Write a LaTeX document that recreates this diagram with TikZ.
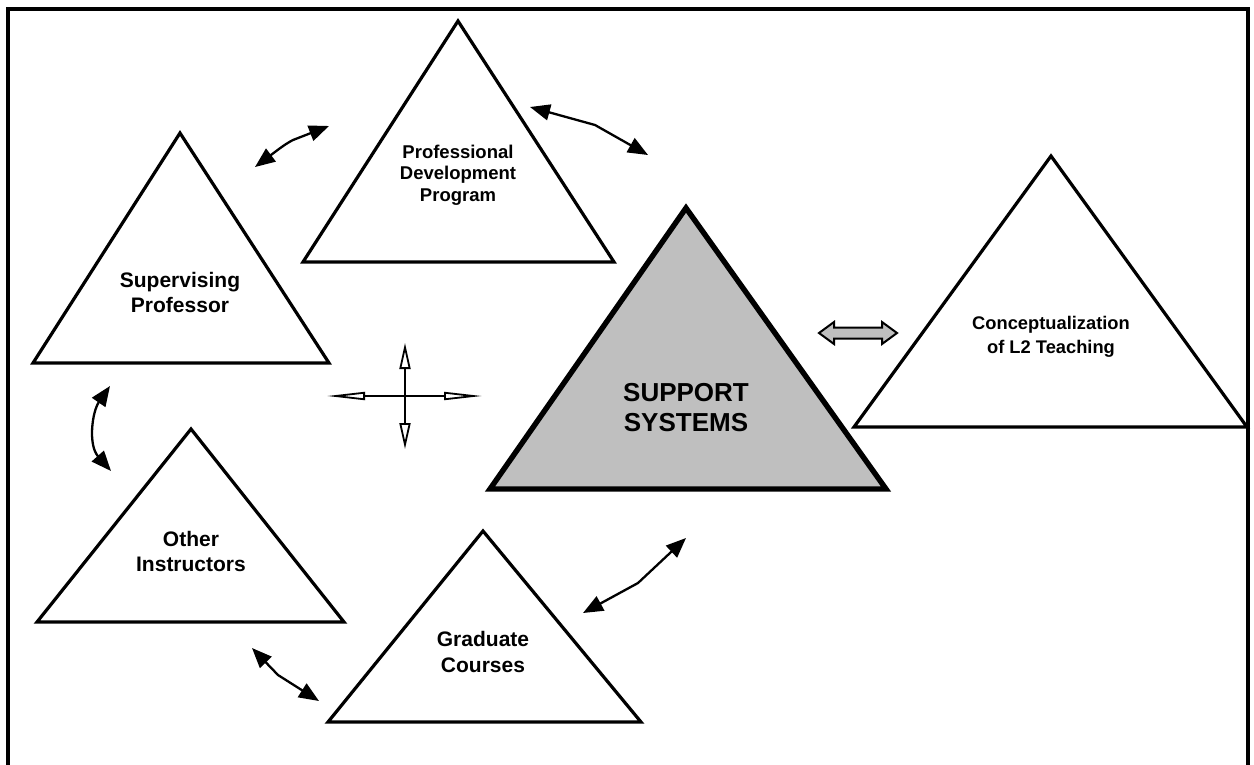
\documentclass[tikz,border=0pt]{standalone}
\usepackage{fontspec}
\setmainfont{Liberation Sans}
\usetikzlibrary{arrows.meta}
\begin{document}
\begin{tikzpicture}[x=1pt,y=-1pt,
  tri/.style={draw=black,line width=3.2pt,line join=miter,fill=white},
  maintri/.style={draw=black,line width=5.4pt,line join=miter,fill=black!25},
  label/.style={align=center,inner sep=0pt},
  link/.style={line width=2.3pt,{Triangle[length=20pt,width=16pt]}-{Triangle[length=20pt,width=16pt]}},
  hopen/.style={line width=1.8pt,{Triangle[open,length=38pt,width=8pt,fill=white]}-{Triangle[open,length=38pt,width=8pt,fill=white]}},
  vopen/.style={line width=1.8pt,{Triangle[open,length=26pt,width=11pt,fill=white]}-{Triangle[open,length=26pt,width=11pt,fill=white]}},
]
\useasboundingbox (0,0) rectangle (1254,764);
\clip (0,0) rectangle (1254,764);
% outer frame
\draw[line width=3.2pt] (8,9) rectangle (1248,820);

% triangles
\draw[tri] (180,133) -- (329,363) -- (33,363) -- cycle;
\draw[tri] (458,21) -- (614,262) -- (303,262) -- cycle;
\draw[maintri] (686,208) -- (886,489) -- (490,489) -- cycle;
\draw[tri] (1051,156) -- (1247,427) -- (854,427) -- cycle;
\draw[tri] (191,429) -- (344,622) -- (37,622) -- cycle;
\draw[tri] (483,531) -- (641,722) -- (328,722) -- cycle;

% labels
\node[label,font=\fontsize{21}{25}\selectfont\bfseries] (sup) at (180,292) {Supervising\\Professor};
\node[label,font=\fontsize{18.5}{21.7}\selectfont\bfseries] (pdp) at (458,175) {Professional\\Development\\Program};
\node[label,font=\fontsize{26}{30}\selectfont\bfseries] (ss) at (686,408) {SUPPORT\\SYSTEMS};
\node[label,font=\fontsize{18.3}{24}\selectfont\bfseries] (con) at (1051,337) {Conceptualization\\of L2 Teaching};
\node[label,font=\fontsize{21}{25}\selectfont\bfseries] (oth) at (191,551) {Other\\Instructors};
\node[label,font=\fontsize{21}{26}\selectfont\bfseries] (gc) at (483,652) {Graduate\\Courses};

% connector end points
\coordinate (a1) at (255,167); \coordinate (a2) at (329,126);
\coordinate (b1) at (530,107); \coordinate (b2) at (648,155);
\coordinate (c1) at (110,386); \coordinate (c2) at (111,471);
\coordinate (d1) at (252,648); \coordinate (d2) at (319,701);
\coordinate (e1) at (583,613); \coordinate (e2) at (686,538);

\draw[link] (a1) .. controls (275,152) and (285,144) .. (293,140) -- (a2);
\draw[link] (b1) -- (595,125) -- (b2);
\draw[link] (c1) .. controls (92,412) and (88,445) .. (c2);
\draw[link] (d1) -- (278,675) -- (d2);
\draw[link] (e1) -- (638,583) -- (e2);

% four-way arrow
\coordinate (xl) at (327,396); \coordinate (xr) at (482,396);
\coordinate (xt) at (405,343); \coordinate (xb) at (405,449);
\draw[hopen] (xl) -- (xr);
\draw[vopen] (xt) -- (xb);

% gray double block arrow
\draw[line width=2pt,fill=black!25,line join=miter]
  (819,333) -- (834,322) -- (834,327.5) -- (882,327.5) -- (882,322) -- (897,333)
  -- (882,344) -- (882,338.5) -- (834,338.5) -- (834,344) -- cycle;
\end{tikzpicture}
\end{document}
